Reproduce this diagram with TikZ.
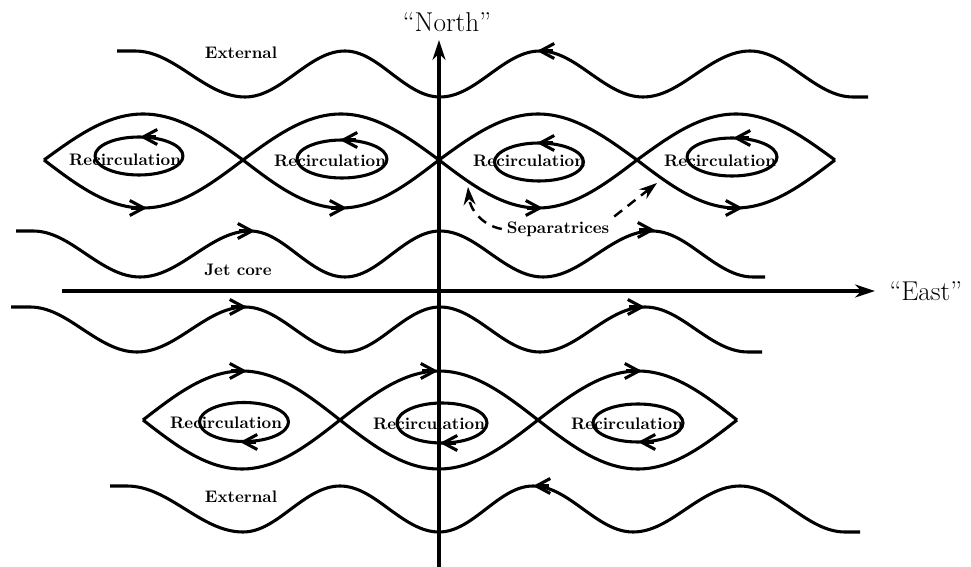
\documentclass[tikz,border=0pt]{standalone}
\usepackage{tikz}
\usetikzlibrary{arrows.meta}

\begin{document}
\begin{tikzpicture}[x=0.02cm,y=-0.02cm,line width=1.75pt,line join=round,
  barb/.style={-{Straight Barb[length=2.8mm,width=3mm]}},
  axis/.style={-{Stealth[length=4mm,width=2.6mm]}},
  sepline/.style={line width=1.4pt,dash pattern=on 2mm off 1.4mm,-{Stealth[length=3.6mm,width=2.4mm]}},
  lab/.style={font=\fontsize{9.5}{11}\selectfont\bfseries,inner sep=2pt},
  big/.style={font=\fontsize{15.5}{18}\selectfont,inner sep=0pt}]
\useasboundingbox (0,0) rectangle (971,567);
% ---------- streamlines outside ----------
\draw (117,51) -- (135,51) cos (190,74) sin (245,97) cos (295,74) sin (345,51) cos (392,74) sin (440,97)
  cos (490,74) sin (540,51) cos (591,74) sin (643,97) cos (696,74) sin (750,51) cos (801,74) sin (853,97) -- (868,97);
\draw (110,486) -- (127,486) cos (185,509) sin (243,532) cos (291,509) sin (340,486) cos (389,509) sin (439,532)
  cos (486,509) sin (533,486) cos (583,509) sin (633,532) cos (686,509) sin (740,486) cos (792,509) sin (845,532) -- (860,532);
% ---------- jet core ----------
\draw (16,231) -- (33,231) cos (86,254) sin (140,277) cos (195,254) sin (250,231) cos (297,254) sin (345,277)
  cos (392,254) sin (440,231) cos (491,254) sin (543,277) cos (597,254) sin (652,231) cos (702,254) sin (753,277) -- (765,277);
\draw (11,307) -- (30,307) cos (83,329.5) sin (137,352) cos (191,329.5) sin (245,307) cos (295,329.5) sin (345,352)
  cos (392,329.5) sin (440,307) cos (490,329.5) sin (540,352) cos (592,329.5) sin (645,307) cos (696,329.5) sin (748,352) -- (762,352);
% ---------- separatrices (cat's eyes) ----------
\draw (44,160) sin (143,114) cos (243,160) sin (341,208) cos (439,160) sin (538,114) cos (637,160) sin (736,208) cos (835,160);
\draw (44,160) sin (143,208) cos (243,160) sin (341,114) cos (439,160) sin (538,208) cos (637,160) sin (736,114) cos (835,160);
\draw (143,420) sin (242,371) cos (340,420) sin (439,469) cos (538,420) sin (638,371) cos (737,420);
\draw (143,420) sin (242,469) cos (340,420) sin (439,371) cos (538,420) sin (638,469) cos (737,420);
% closed orbits
\foreach \x/\y/\rx/\ry in {139/156/44/19,342/159/45/19,539/162/44.5/19,732/157/45/19,
  244/422/44.5/19.5,442/423/45/20,638/423/45/19}
  \draw (\x,\y) ellipse [x radius=\rx,y radius=\ry];
% flow direction
\foreach \x/\y in {147/208,347/208,543/208,743/208,247/371,438/371,642/371,255/231,655/230,247/307,645/307}
  \draw[barb] (\x-16,\y) -- (\x,\y);
\foreach \x/\y in {537/51,533/486,140/137,340/140,537/143,733/138,240/442,440/443,638/442}
  \draw[barb] (\x+16,\y) -- (\x,\y);
% ---------- axes ----------
\coordinate (south) at (439,567);
\coordinate (northtip) at (439,40);
\coordinate (west) at (62,291);
\coordinate (easttip) at (875,291);
\draw[axis] (south) -- (northtip);
\draw[axis] (west) -- (easttip);
\node[big] (north) at (447,22) {``North''};
\node[big,anchor=west] (east) at (888,291) {``East''};
% ---------- labels ----------
\node[lab] (ext1) at (241,53) {External};
\node[lab] (ext2) at (241,497) {External};
\node[lab] (jet) at (238,270) {Jet core};
\foreach \x/\y [count=\i] in {125/160,330/161,529/161,720/161,226/423,429/424,627/424}
  \node[lab] (rec\i) at (\x,\y) {Recirculation};
\node[lab] (sep) at (558,229) {Separatrices};
\coordinate (sepA) at (468,187);
\coordinate (sepB) at (657,183);
\draw[sepline] (sep.west) to[out=170,in=-85] (sepA);
\draw[sepline] (sep.north east) -- (sepB);
\end{tikzpicture}
\end{document}
